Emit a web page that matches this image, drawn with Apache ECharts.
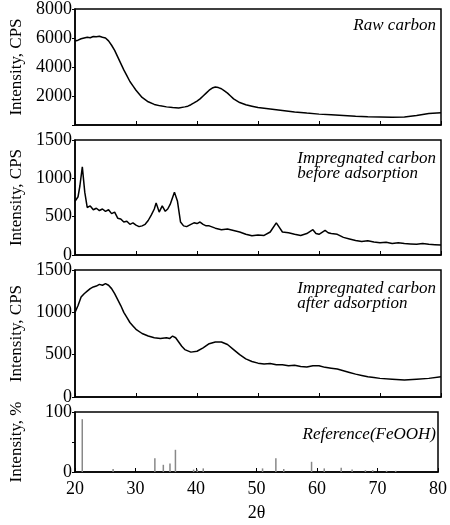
<!DOCTYPE html>
<html><head><meta charset="utf-8">
<script src="https://cdn.jsdelivr.net/npm/echarts@6/dist/echarts.min.js"></script>
<style>html,body{margin:0;background:#fff}#c{width:450px;height:525px}</style>
</head><body><div id="c"></div>
<script>
// 2θ positions and intensities
const rawX = [20,20.5,21,21.5,22,22.5,23,23.5,24,24.5,25,25.5,26,26.5,27,27.5,28,28.5,29,29.5,30,31,32,33,34,35,36,37,38,38.5,39,39.5,40,40.5,41,41.5,42,42.5,43,43.5,44,44.5,45,45.5,46,47,48,49,50,52,54,56,58,60,62,64,66,68,70,72,74,76,78,80];
const rawY = [5800,5850,5950,6000,6050,6020,6100,6080,6120,6050,6000,5800,5500,5150,4700,4250,3800,3400,3000,2700,2400,1900,1600,1420,1320,1250,1200,1180,1250,1300,1400,1520,1650,1800,2000,2200,2400,2550,2620,2580,2500,2350,2200,2000,1800,1550,1400,1300,1200,1100,1000,900,820,750,700,650,600,570,560,540,560,650,800,850];

const befX = [20,20.5,20.8,21.2,21.6,22,22.5,23,23.5,24,24.5,25,25.5,26,26.5,27,27.5,28,28.5,29,29.5,30,30.5,31,31.5,32,32.5,33,33.3,33.8,34.3,34.8,35.2,35.6,36.3,36.8,37.3,37.8,38.3,39,39.5,40,40.5,41,41.5,42,43,44,45,46,47,48,49,50,51,52,53,53.5,54,55,56,57,58,59,59.5,60,61,61.5,62,63,64,65,66,67,68,69,70,71,72,73,74,75,76,77,78,79,80];
const befY = [700,760,900,1150,820,620,640,590,610,580,600,570,590,540,560,480,470,430,440,400,420,390,370,380,400,450,520,600,680,560,640,570,600,660,820,700,430,380,370,400,420,410,430,400,380,380,350,330,340,320,300,270,250,260,255,300,420,360,300,290,270,255,280,330,280,270,320,290,280,270,230,210,190,175,185,170,160,165,150,160,150,145,140,150,140,135,130];

const aftX = [20,20.5,21,21.5,22,22.5,23,23.5,24,24.5,25,25.5,26,26.5,27,27.5,28,28.5,29,29.5,30,31,32,33,34,35,35.5,36,36.5,37,37.5,38,39,40,41,42,43,44,45,46,47,48,49,50,51,52,53,54,55,56,57,58,59,60,61,62,63,64,65,66,67,68,69,70,72,74,76,78,80];
const aftY = [1000,1080,1180,1220,1250,1280,1300,1310,1330,1320,1340,1320,1280,1220,1150,1080,1000,940,880,840,800,750,720,700,690,700,690,720,700,650,600,560,530,540,580,630,650,650,620,560,500,450,420,400,390,395,380,380,370,375,360,355,370,370,350,340,330,310,290,270,255,240,230,220,210,200,210,220,240];

const refX = [21.2,26.3,33.2,34.6,35.7,36.6,39.6,40.2,41.2,51.0,53.2,54.5,59.1,61.2,64.0,65.8,68.0,69.2,71.5,73.0];
const refY = [88,5,23,12,14,37,4,4,6,6,23,5,17,6,7,4,3,3,2,2];

const labels = ['Raw carbon', 'Impregnated carbon\nbefore adsorption', 'Impregnated carbon\nafter adsorption', 'Reference(FeOOH)'];
const yMax = [8000, 1500, 1500, 100];
const yInt = [2000, 500, 500, 50];
const yName = ['Intensity, CPS', 'Intensity, CPS', 'Intensity, CPS', 'Intensity, %'];

const font = 'serif';
const grids = [
  {left: 67, right: 9, top: 7, height: 118},
  {left: 67, right: 9, top: 140, height: 115},
  {left: 67, right: 9, top: 270, height: 127},
  {left: 67, right: 9, top: 412, height: 60}
];

const hideLabel = (i, v) => (i === 0 && v === 0) || (i === 3 && v === 50);

const chart = echarts.init(document.getElementById('c'));
chart.setOption({
  animation: false,
  textStyle: {fontFamily: font},
  grid: grids.map(g => Object.assign({show: true, borderColor: '#000', borderWidth: 1.5}, g)),
  xAxis: grids.map((g, i) => ({
    gridIndex: i, type: 'value', min: 20, max: 80, interval: 10,
    axisLine: {lineStyle: {color: '#000', width: 1.5}},
    axisTick: {inside: true, length: 4, lineStyle: {color: '#000'}},
    splitLine: {show: false},
    axisLabel: {show: i === 3, color: '#000', fontSize: 18, fontFamily: font},
    name: i === 3 ? '2θ' : '', nameLocation: 'middle', nameGap: 32,
    nameTextStyle: {color: '#000', fontSize: 18, fontFamily: font}
  })),
  yAxis: grids.map((g, i) => ({
    gridIndex: i, type: 'value', min: 0, max: yMax[i], interval: yInt[i],
    axisLine: {lineStyle: {color: '#000', width: 1.5}},
    axisTick: {length: 3, lineStyle: {color: '#000'}},
    splitLine: {show: false},
    axisLabel: {color: '#000', fontSize: 18, fontFamily: font, margin: 3,
      formatter: v => hideLabel(i, v) ? '' : v},
    name: yName[i], nameLocation: 'middle', nameGap: 50, nameRotate: 90,
    nameTextStyle: {color: '#000', fontSize: 17, fontFamily: font}
  })),
  graphic: labels.map((t, i) => ({
    type: 'text', right: 14, top: grids[i].top + (i === 3 ? 14 : 10),
    style: {text: t, font: 'italic 17px serif', fill: '#000', align: 'left', lineHeight: 15}
  })),
  series: [
    {type: 'line', xAxisIndex: 0, yAxisIndex: 0, symbol: 'none', lineStyle: {color: '#000', width: 1.5}, data: rawX.map((x, k) => [x, rawY[k]])},
    {type: 'line', xAxisIndex: 1, yAxisIndex: 1, symbol: 'none', lineStyle: {color: '#000', width: 1.5}, data: befX.map((x, k) => [x, befY[k]])},
    {type: 'line', xAxisIndex: 2, yAxisIndex: 2, symbol: 'none', lineStyle: {color: '#000', width: 1.5}, data: aftX.map((x, k) => [x, aftY[k]])},
    {type: 'bar', xAxisIndex: 3, yAxisIndex: 3, barWidth: 1.5, itemStyle: {color: '#888'}, data: refX.map((x, k) => [x, refY[k]])}
  ]
});
</script></body></html>
